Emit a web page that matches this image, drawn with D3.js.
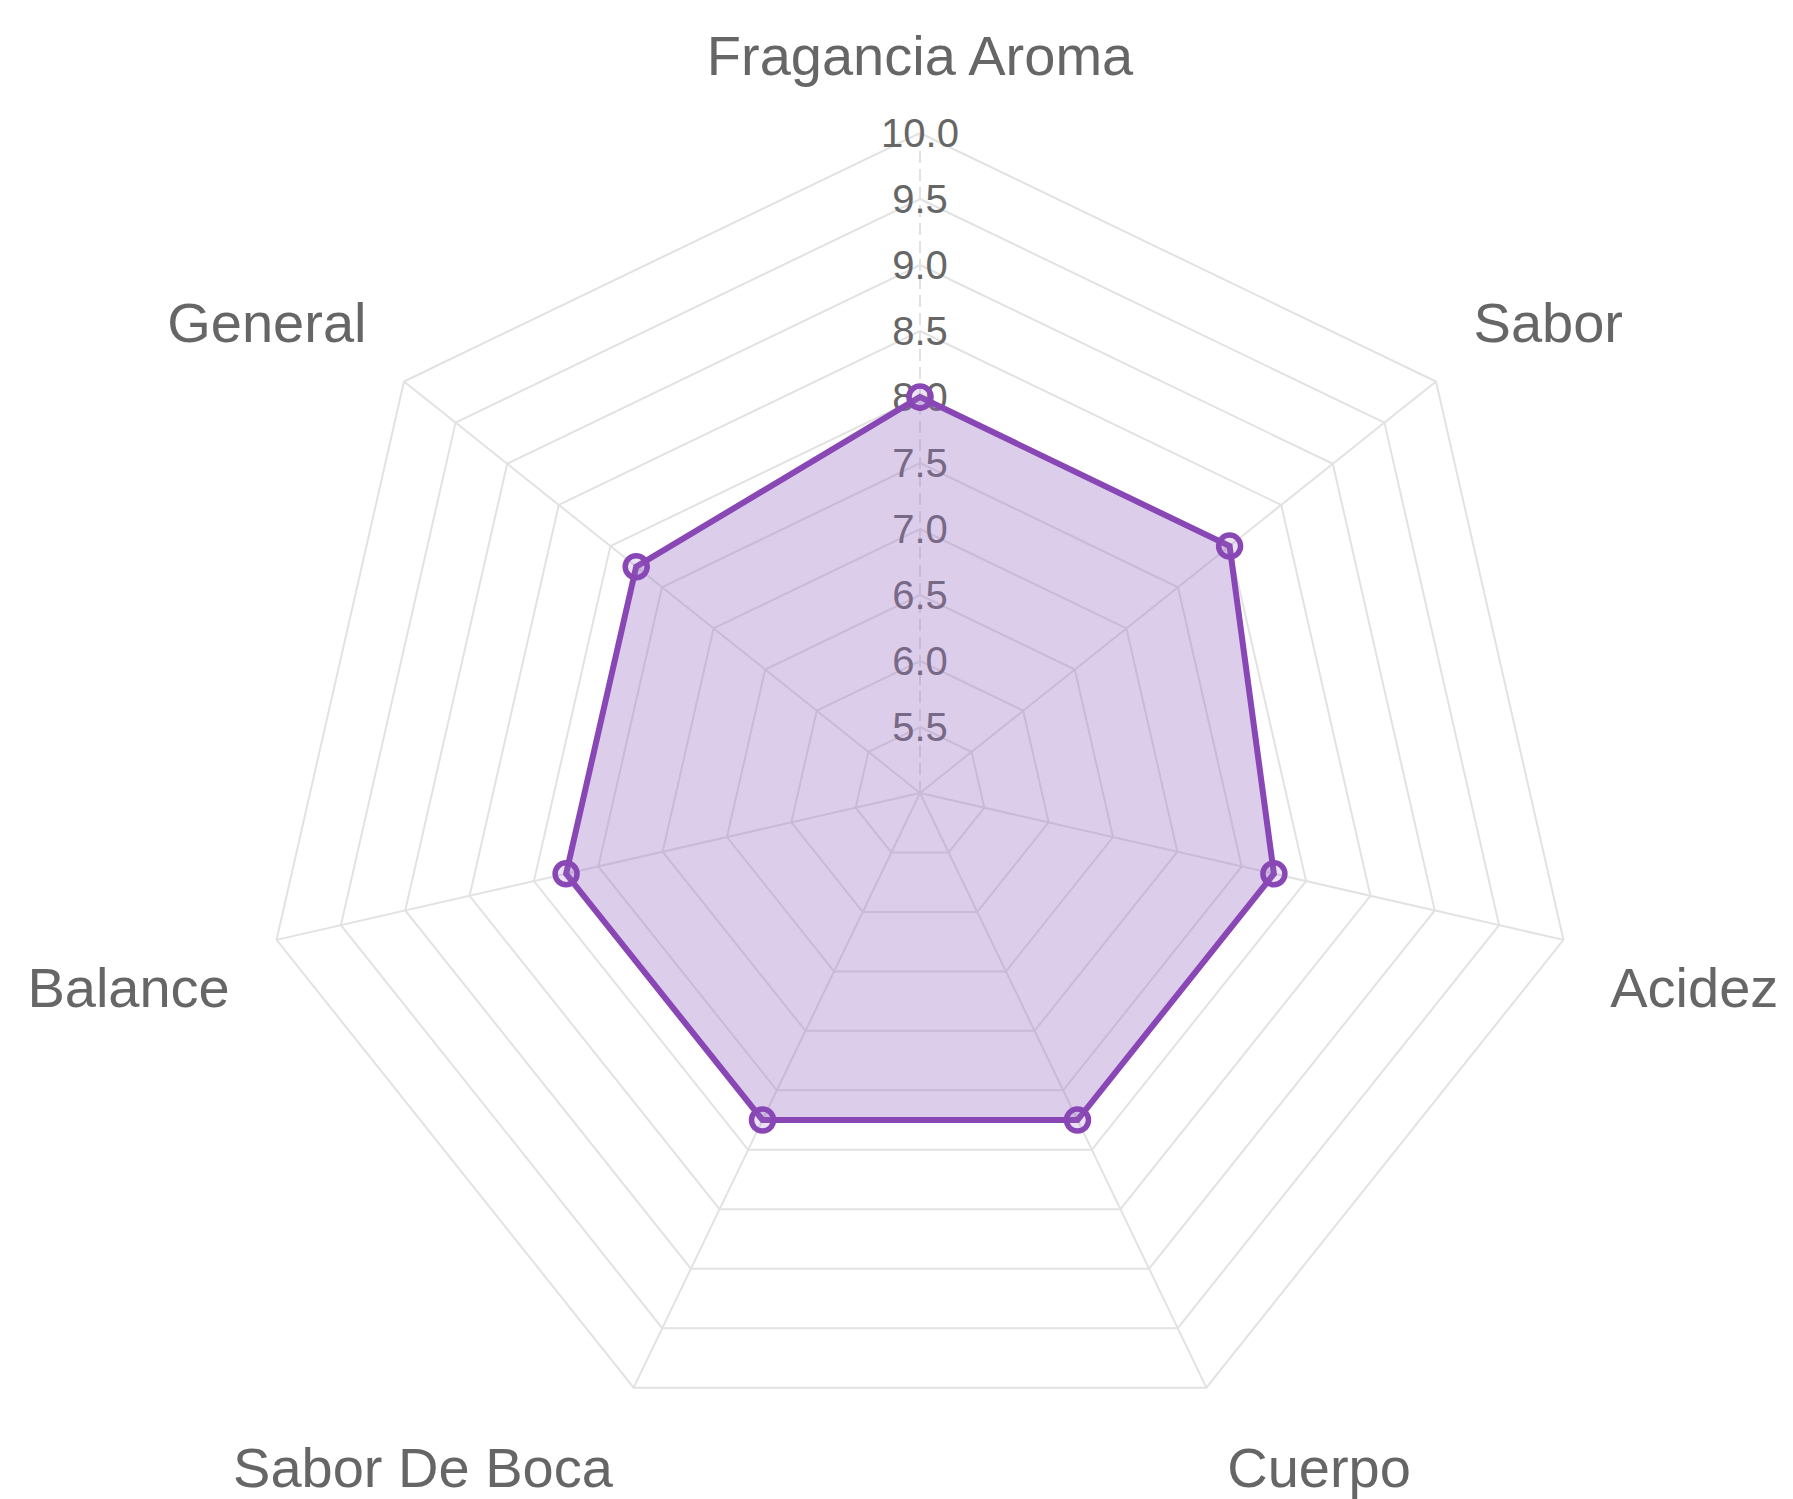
<!DOCTYPE html>
<html>
<head>
<meta charset="utf-8">
<script src="https://cdn.jsdelivr.net/npm/d3@7"></script>
<style>
  html, body { margin: 0; padding: 0; background: #fff; }
  svg { display: block; font-family: "Liberation Sans", Arial, Helvetica, sans-serif; }
</style>
</head>
<body>
<div id="chart"></div>
<script>
// categories, one per spoke, clockwise from the top
var labels = ["Fragancia Aroma", "Sabor", "Acidez", "Cuerpo", "Sabor De Boca", "Balance", "General"];
var values = [8.0, 8.0, 7.75, 7.75, 7.75, 7.75, 7.75];
var tickValues = [5.5, 6.0, 6.5, 7.0, 7.5, 8.0, 8.5, 9.0, 9.5, 10.0];
var scaleMin = 5, scaleMax = 10;

var width = 1793, height = 1499;
var cx = 920, cy = 793, R = 660;
var purple = "#8847b5";
var fillColor = "#9b6fc4";

var svg = d3.select("#chart")
  .append("svg")
    .attr("width", width)
    .attr("height", height);

svg.append("rect").attr("width", width).attr("height", height).attr("fill", "#fff");

var g = svg.append("g")
    .attr("transform", "translate(" + cx + "," + cy + ")");

// radial scale
var r = d3.scaleLinear()
  .domain([scaleMin, scaleMax])
  .range([0, R]);

var n = labels.length;
function angle(i) { return i * 2 * Math.PI / n; }
function px(i, rad) { return rad * Math.sin(angle(i)); }
function py(i, rad) { return -rad * Math.cos(angle(i)); }

// grid rings
g.selectAll(".ring")
  .data(tickValues)
  .enter()
  .append("polygon")
    .attr("points", function(t) {
      return d3.range(n).map(function(i) { return px(i, r(t)) + "," + py(i, r(t)); }).join(" ");
    })
    .attr("fill", "none")
    .attr("stroke", "#e2e2e2")
    .attr("stroke-width", 2);

// angle lines
g.selectAll(".spoke")
  .data(d3.range(n))
  .enter()
  .append("line")
    .attr("x1", 0).attr("y1", 0)
    .attr("x2", function(i) { return px(i, R); })
    .attr("y2", function(i) { return py(i, R); })
    .attr("stroke", "#e2e2e2")
    .attr("stroke-width", 2)
    .attr("stroke-dasharray", function(i) { return i == 0 ? "12,6" : null; });

// tick labels up the first spoke
g.selectAll(".tick")
  .data(tickValues)
  .enter()
  .append("text")
    .attr("x", 0)
    .attr("y", function(t) { return -r(t) + 14; })
    .attr("text-anchor", "middle")
    .attr("font-size", 40)
    .attr("fill", "#666")
    .text(function(t) { return d3.format(".1f")(t); });

// point labels
var labelR = R + 48;
g.selectAll(".plabel")
  .data(labels)
  .enter()
  .append("text")
    .attr("x", function(d, i) { return px(i, labelR); })
    .attr("y", function(d, i) {
      var y = py(i, labelR);
      return Math.cos(angle(i)) > 0 ? y - 10 : y + 56;
    })
    .attr("text-anchor", function(d, i) {
      var s = Math.sin(angle(i));
      return Math.abs(s) < 0.01 ? "middle" : (s > 0 ? "start" : "end");
    })
    .attr("font-size", 56)
    .attr("fill", "#666")
    .text(function(d) { return d; });

// data area
var line = d3.lineRadial()
  .angle(function(d, i) { return angle(i); })
  .radius(function(d) { return r(d); })
  .curve(d3.curveLinearClosed);

g.append("path")
  .datum(values)
  .attr("d", line)
  .attr("fill", fillColor)
  .attr("fill-opacity", 0.35)
  .attr("stroke", purple)
  .attr("stroke-width", 6)
  .attr("stroke-linejoin", "miter");

g.selectAll(".pt")
  .data(values)
  .enter()
  .append("circle")
    .attr("cx", function(d, i) { return px(i, r(d)); })
    .attr("cy", function(d, i) { return py(i, r(d)); })
    .attr("r", 11)
    .attr("fill", fillColor)
    .attr("fill-opacity", 0.2)
    .attr("stroke", purple)
    .attr("stroke-width", 5.5);
</script>
</body>
</html>
